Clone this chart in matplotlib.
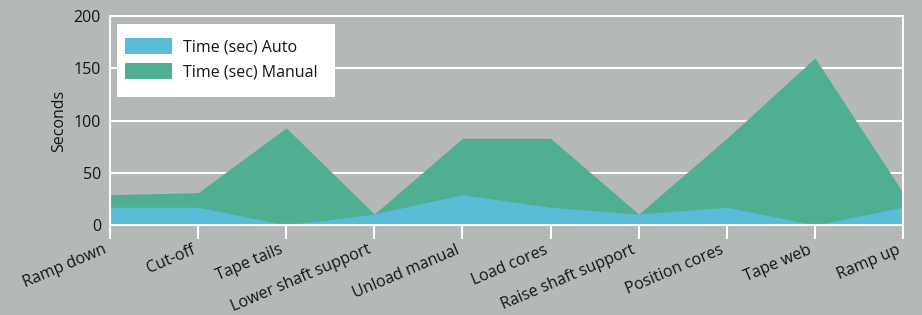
import matplotlib
matplotlib.use("Agg")
import matplotlib.pyplot as plt
from matplotlib.patches import Rectangle
from matplotlib.transforms import ScaledTranslation
import numpy as np

categories = ["Ramp down", "Cut-off", "Tape tails", "Lower shaft support", "Unload manual",
              "Load cores", "Raise shaft support", "Position cores", "Tape web", "Ramp up"]
auto_sec = [17, 17, 0, 10.5, 29, 17, 10.5, 17, 0, 17]
manual_sec = [29, 31, 93, 10.5, 83, 83, 10.5, 83, 160, 31]
yticks = [0, 50, 100, 150, 200]

plt.rcParams['font.family'] = ['Open Sans', 'DejaVu Sans']
txt = '#151515'

bg = '#b5b9b5'
green = '#50af93'
blue = '#5bbcd7'

fig = plt.figure(figsize=(9.22, 3.15), dpi=100, facecolor=bg)
ax = fig.add_axes([0.1193, 0.2857, 0.8601, 0.6633])
ax.set_facecolor(bg)

x = np.arange(len(categories))
ax.fill_between(x, 0, manual_sec, color=green, linewidth=0, label='Time (sec) Manual', zorder=2)
ax.fill_between(x, 0, auto_sec, color=blue, linewidth=0, label='Time (sec) Auto', zorder=3)

ax.set_xlim(0, len(categories) - 1)
ax.set_ylim(0, 200)
ax.set_yticks(yticks)
ax.yaxis.grid(True, color='white', linewidth=1.5, zorder=1)
ax.set_axisbelow(True)
for s in ax.spines.values():
    s.set_color('white')
    s.set_linewidth(1.5)
    s.set_zorder(4)

ax.set_xticks(x)
ax.set_xticklabels(categories, rotation=23, ha='right', rotation_mode='anchor', fontsize=11.5, color=txt)
ax.tick_params(axis='x', length=10, width=1.5, color='white', pad=3)
offset = ScaledTranslation(-0.07, 0.012, fig.dpi_scale_trans)
for lab in ax.get_xticklabels():
    lab.set_transform(lab.get_transform() + offset)
ax.tick_params(axis='y', length=0, labelsize=11.5, pad=6.5, labelcolor=txt)
ax.set_ylabel('Seconds', fontsize=11.5, labelpad=4.5, color=txt)

# legend background box
ax.add_patch(Rectangle((0.0088, 0.6124), 0.2749, 0.3493, transform=ax.transAxes,
                       facecolor='white', edgecolor='none', zorder=4.5))

h, l = ax.get_legend_handles_labels()
leg = ax.legend(h[::-1], l[::-1], loc='upper left', bbox_to_anchor=(0.0189, 0.895),
                borderaxespad=0, frameon=False, prop={'size': 11.5},
                handlelength=2.95, handleheight=1.2, borderpad=0,
                labelspacing=0.44, handletextpad=0.7)
for t in leg.get_texts():
    t.set_color(txt)
leg.set_zorder(5)

fig.savefig('out.png', dpi=100, facecolor=bg)
